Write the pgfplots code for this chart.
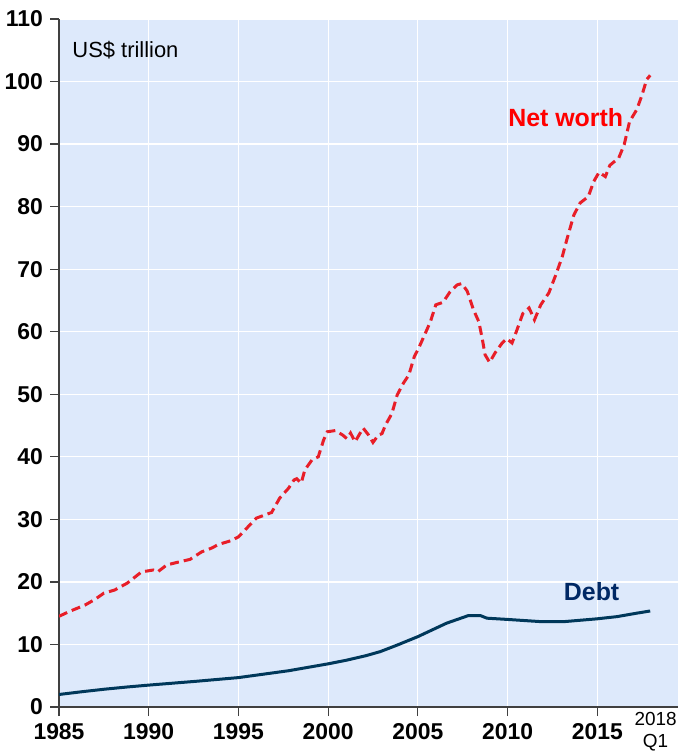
\documentclass[border=0pt]{standalone}
\usepackage{fontspec}
\setmainfont{Liberation Sans}
\usepackage{pgfplots}
\pgfplotsset{compat=1.18}

\definecolor{bgblue}{RGB}{221,233,251}
\definecolor{nwred}{RGB}{232,30,40}
\definecolor{debtnavy}{RGB}{0,56,90}
\definecolor{debtlab}{RGB}{0,40,100}
\definecolor{axgray}{RGB}{64,64,64}

\begin{document}
\begin{tikzpicture}
  \begin{axis}[
    ,scale only axis
    ,width=309.5bp
    ,height=344bp
    ,xmin=1985, xmax=2019.5
    ,ymin=0, ymax=110
    ,axis x line*=bottom
    ,axis y line*=left
    ,axis line style={axgray,line width=0.8bp}
    ,axis background/.style={fill=bgblue}
    ,xtick={1985,1990,...,2015}
    ,ytick={0,10,...,110}
    ,xticklabel style={/pgf/number format/1000 sep=}
    ,/pgf/number format/assume math mode=true
    ,ticklabel style={font=\bfseries\fontsize{11.5}{13}\selectfont}
    ,tick align=outside
    ,major tick length=4.5bp
    ,tick style={axgray,line width=0.6bp}
    ,grid=major
    ,major grid style={white,line width=0.6bp}
    ,extra x ticks={2018.25}
    ,extra x tick labels={2018\\Q1}
    ,extra x tick style={major tick length=0pt,grid=none,
        tick label style={font=\fontsize{9.5}{11}\selectfont,align=center,yshift=1bp}}
    ]
    \coordinate (bl) at (rel axis cs:0,0);
    \coordinate (tr) at (rel axis cs:1,1);

    % net worth
    \addplot[nwred,line width=1.5bp,dash pattern=on 4.5bp off 2.5bp] coordinates {
      (1985.0,14.5) (1985.6,15.3) (1986.45,16.3) (1987.0,17.2) (1987.5,18.2)
      (1988.1,18.7) (1988.8,19.8) (1989.6,21.6) (1990.25,21.9) (1990.5,21.6)
      (1991.0,22.7) (1991.55,23.1) (1992.3,23.6) (1992.95,24.8) (1993.5,25.4)
      (1993.9,26.0) (1994.6,26.6) (1995.0,27.2) (1995.4,28.4) (1996.0,30.2)
      (1996.85,31.1) (1997.3,33.4) (1997.8,35.0) (1998.1,36.3) (1998.25,36.5)
      (1998.5,35.8) (1998.7,37.9) (1999.1,39.5) (1999.45,40.0) (1999.75,42.7)
      (1999.95,44.0) (2000.4,44.2) (2000.8,43.5) (2001.05,42.9) (2001.25,43.8)
      (2001.5,42.4) (2001.95,44.6) (2002.25,43.5) (2002.5,42.3) (2002.8,43.5)
      (2003.0,43.7) (2003.2,45.1) (2003.55,46.9) (2003.85,49.9) (2004.2,51.8)
      (2004.5,53.1) (2004.8,56.0) (2005.05,57.4) (2005.3,59.0) (2005.7,61.6)
      (2006.0,64.3) (2006.4,64.7) (2006.8,66.4) (2007.2,67.5) (2007.45,67.7)
      (2007.75,66.5) (2008.1,63.5) (2008.4,61.6) (2008.6,58.7) (2008.75,56.3)
      (2009.0,55.1) (2009.3,56.6) (2009.7,58.2) (2009.95,58.9) (2010.25,58.2)
      (2010.5,60.1) (2010.85,62.9) (2011.2,63.8) (2011.5,61.9) (2011.85,64.3)
      (2012.3,66.2) (2012.65,68.8) (2013.05,72.0) (2013.3,74.7) (2013.7,78.7)
      (2014.05,80.6) (2014.5,81.6) (2014.8,84.0) (2015.1,85.5) (2015.45,84.8)
      (2015.7,86.6) (2016.2,87.8) (2016.5,89.9) (2016.8,93.6) (2017.2,95.5)
      (2017.5,97.9) (2017.75,100.3) (2017.95,101.0)
    };

    % debt
    \addplot[debtnavy,line width=1.5bp] coordinates {
      (1985.0,2.0) (1986.3,2.45) (1987.55,2.85) (1988.8,3.2) (1990.0,3.5) (1992.6,4.1)
      (1995.0,4.7) (1997.8,5.8) (2000.0,6.9) (2001.05,7.5) (2002.1,8.2)
      (2002.9,8.85) (2003.85,9.9) (2005.0,11.25) (2006.6,13.4) (2007.8,14.6)
      (2008.5,14.6) (2008.85,14.2) (2010.0,14.0) (2011.85,13.65) (2013.15,13.65)
      (2015.0,14.1) (2016.1,14.45) (2017.2,15.0) (2017.95,15.35)
    };

    \node[anchor=base west,inner sep=0,font=\fontsize{11}{13}\selectfont]
      at (axis cs:1985.73,103.8) {US\$ trillion};
    \node[anchor=base west,inner sep=0,text=red,font=\bfseries\fontsize{12.5}{14}\selectfont]
      at (axis cs:2010.02,92.85) {Net worth};
    \node[anchor=base west,inner sep=0,text=debtlab,font=\bfseries\fontsize{12.5}{14}\selectfont]
      at (axis cs:2013.12,17.1) {Debt};
  \end{axis}
  \pgfresetboundingbox
  \path ([xshift=-29.5bp,yshift=-22bp]bl) rectangle ([yshift=9.5bp]tr);
\end{tikzpicture}
\end{document}
